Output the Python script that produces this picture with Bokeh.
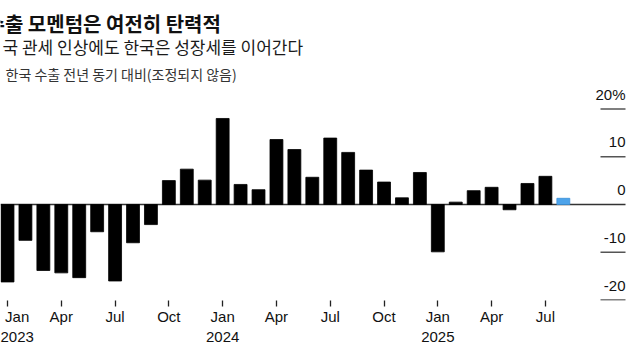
from bokeh.plotting import figure
from bokeh.models import Label, FixedTicker, ColumnDataSource
from bokeh.core.properties import value
from bokeh.embed import file_html
from bokeh.resources import INLINE

# ---- data ----
months = list(range(32))  # Jan 2023 .. Aug 2025
export_yoy = [-16.2, -7.5, -13.8, -14.3, -15.3, -5.7, -16.0, -8.0, -4.2,
              5.0, 7.4, 5.1, 18.0, 4.2, 3.1, 13.6, 11.5, 5.7, 13.9, 10.9,
              7.2, 4.7, 1.4, 6.7, -9.9, 0.5, 2.9, 3.6, -1.1, 4.4, 5.9, 1.3]
bar_colors = ["#000000"] * 31 + ["#4da3ea"]
line_colors = ["#000000"] * 31 + ["#3a8fd8"]
tick_months = [0, 3, 6, 9, 12, 15, 18, 21, 24, 27, 30]
tick_labels = ["Jan\n2023", "Apr", "Jul", "Oct", "Jan\n2024", "Apr", "Jul",
               "Oct", "Jan\n2025", "Apr", "Jul"]
y_ticks = [20, 10, 0, -10, -20]
y_tick_labels = ["20%", "10", "0", "-10", "-20"]

title = "수출 모멘텀은 여전히 탄력적"
subtitle = "국 관세 인상에도 한국은 성장세를 이어간다"
note = "한국 수출 전년 동기 대비(조정되지 않음)"

# ---- layout constants ----
PX_PER_MONTH = 17.93
X0 = -7 / PX_PER_MONTH
X1 = 625 / PX_PER_MONTH
AX_L = 593 / PX_PER_MONTH
AX_R = 618 / PX_PER_MONTH
LABEL_DY = 3.05

p = figure(width=632, height=352, output_backend="svg", toolbar_location=None,
           x_range=(X0, X1), y_range=(-20.08, 42.68),
           min_border_left=0, min_border_right=0, min_border_top=0,
           min_border_bottom=52)
p.outline_line_color = None
p.background_fill_color = "white"
p.border_fill_color = "white"
p.xgrid.visible = False
p.ygrid.visible = False
p.yaxis.visible = False

p.segment(x0=[AX_L] * 4, x1=[AX_R] * 4, y0=[20, 10, -10, -20], y1=[20, 10, -10, -20],
          line_color="#555555", line_width=1.5)
p.segment(x0=[X0], x1=[AX_R], y0=[0], y1=[0], line_color="#333333", line_width=1.3)

src = ColumnDataSource(dict(x=months, top=export_yoy, fc=bar_colors, lc=line_colors))
p.vbar(x="x", top="top", bottom=0, width=0.72, source=src,
       fill_color="fc", line_color="lc", line_width=0.8)

p.text(x=[AX_R] * 5, y=[t + LABEL_DY for t in y_ticks], text=y_tick_labels,
       text_align="right", text_baseline="alphabetic",
       text_font=value("Liberation Sans"), text_font_size="15px", text_color="#111111")

ax = p.xaxis[0]
ax.ticker = FixedTicker(ticks=tick_months)
ax.major_label_overrides = {m: l for m, l in zip(tick_months, tick_labels)}
ax.axis_line_color = None
ax.major_tick_in = 0
ax.major_tick_out = 6
ax.major_tick_line_color = "#222222"
ax.major_tick_line_width = 1.3
ax.minor_tick_line_color = None
ax.major_label_standoff = 1
ax.major_label_text_font = "Liberation Sans"
ax.major_label_text_font_size = "15px"
ax.major_label_text_color = "#111111"

p.add_layout(Label(x=-14, y=277.5, x_units="screen", y_units="screen", text=title,
                   text_font="Noto Sans CJK KR", text_font_style="bold",
                   text_font_size="20px", text_color="#111111",
                   text_baseline="alphabetic"))
p.add_layout(Label(x=2, y=254, x_units="screen", y_units="screen", text=subtitle,
                   text_font="Noto Sans CJK KR", text_font_size="17px",
                   text_color="#1a1a1a", text_baseline="alphabetic"))
p.add_layout(Label(x=5, y=227, x_units="screen", y_units="screen", text=note,
                   text_font="Noto Sans CJK KR", text_font_size="14px",
                   text_color="#333333", text_baseline="alphabetic"))

open("out.html", "w").write(file_html(p, INLINE))
